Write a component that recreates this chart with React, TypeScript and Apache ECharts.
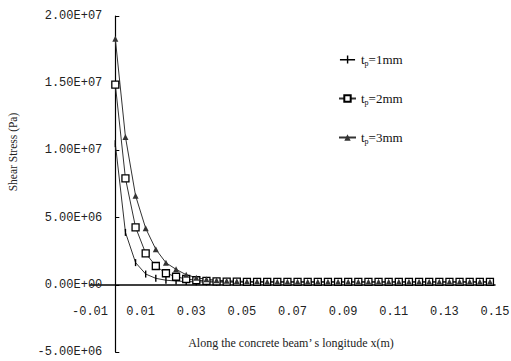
import React, { useEffect, useRef } from "react";
import * as echarts from "echarts";

const xValues = [
  0, 0.004, 0.008, 0.012, 0.016, 0.02, 0.024, 0.028, 0.032, 0.036,
  0.04, 0.044, 0.048, 0.052, 0.056, 0.06, 0.064, 0.068, 0.072, 0.076,
  0.08, 0.084, 0.088, 0.092, 0.096, 0.1, 0.104, 0.108, 0.112, 0.116,
  0.12, 0.124, 0.128, 0.132, 0.136, 0.14, 0.144, 0.148,
];

const tp1 = [
  1.05e7, 3.9e6, 1.65e6, 8.0e5, 4.8e5, 3.4e5, 2.8e5, 2.4e5, 2.2e5, 2.1e5,
  2.0e5, 2.0e5, 2.0e5, 2.0e5, 2.0e5, 2.0e5, 2.0e5, 2.0e5, 2.0e5, 2.0e5,
  2.0e5, 2.0e5, 2.0e5, 2.0e5, 2.0e5, 2.0e5, 2.0e5, 2.0e5, 2.0e5, 2.0e5,
  2.0e5, 2.0e5, 2.0e5, 2.0e5, 2.0e5, 2.0e5, 2.0e5, 2.0e5,
];

const tp2 = [
  1.49e7, 7.92e6, 4.28e6, 2.34e6, 1.4e6, 8.6e5, 6.0e5, 4.3e5, 3.4e5, 2.9e5,
  2.6e5, 2.4e5, 2.3e5, 2.2e5, 2.2e5, 2.2e5, 2.2e5, 2.2e5, 2.2e5, 2.2e5,
  2.2e5, 2.2e5, 2.2e5, 2.2e5, 2.2e5, 2.2e5, 2.2e5, 2.2e5, 2.2e5, 2.2e5,
  2.2e5, 2.2e5, 2.2e5, 2.2e5, 2.2e5, 2.2e5, 2.2e5, 2.2e5,
];

const tp3 = [
  1.83e7, 1.1e7, 6.63e6, 4.2e6, 2.64e6, 1.64e6, 1.15e6, 7.5e5, 5.3e5, 4.1e5,
  3.4e5, 3.0e5, 2.7e5, 2.5e5, 2.4e5, 2.3e5, 2.3e5, 2.3e5, 2.3e5, 2.3e5,
  2.3e5, 2.3e5, 2.3e5, 2.3e5, 2.3e5, 2.3e5, 2.3e5, 2.3e5, 2.3e5, 2.3e5,
  2.3e5, 2.3e5, 2.3e5, 2.3e5, 2.3e5, 2.3e5, 2.3e5, 2.3e5,
];

const seriesNames = ["tp=1mm", "tp=2mm", "tp=3mm"];
const xTitle = "Along the concrete beam\u2019 s longitude x(m)";
const yTitle = "Shear Stress (Pa)";

function sci(v: number): string {
  if (v === 0) return "0.00E+00";
  const sign = v < 0 ? "-" : "";
  const a = Math.abs(v);
  const e = Math.floor(Math.log10(a) + 1e-9);
  const m = a / Math.pow(10, e);
  const es = (e < 0 ? "-" : "+") + String(Math.abs(e)).padStart(2, "0");
  return sign + m.toFixed(2) + "E" + es;
}

const pair = (ys: number[]) => xValues.map((x, i) => [x, ys[i]]);

export default function App() {
  const ref = useRef<HTMLDivElement>(null);
  useEffect(() => {
    if (!ref.current) return;
    const chart = echarts.init(ref.current, null, { renderer: "svg" });
    const lineColor = "#333";
    const serif = "'Liberation Serif', 'Times New Roman', serif";
    const mono = "'Liberation Mono', 'Courier New', monospace";
    const gridLeft = 90;
    const gridRight = 16;
    const gridTop = 16;
    const gridBottom = 9;
    const xMin = -0.01;
    const xMax = 0.15;
    const yMin = -5e6;
    const yMax = 2e7;
    const plotW = 511 - gridLeft - gridRight;
    const plotH = 361 - gridTop - gridBottom;
    // shift the axes so they cross at (0, 0), as in the reference
    const yAxisShift = ((0 - xMin) / (xMax - xMin)) * plotW;
    const xAxisShift = ((0 - yMin) / (yMax - yMin)) * plotH;
    chart.setOption({
      animation: false,
      backgroundColor: "#ffffff",
      grid: {
        left: gridLeft,
        right: gridRight,
        top: gridTop,
        bottom: gridBottom,
        containLabel: false,
        outerBoundsMode: "none",
      },
      legend: {
        orient: "vertical",
        left: 333,
        top: 48,
        itemGap: 25,
        itemWidth: 17,
        itemHeight: 8,
        data: [
          { name: seriesNames[0], icon: "path://M0,4 L17,4 L17,5.5 L0,5.5 Z M7.8,0 L9.4,0 L9.4,9 L7.8,9 Z" },
          { name: seriesNames[1] },
          { name: seriesNames[2] },
        ],
        formatter: (n: string) => `{t|t}{s|p}{t|${n.slice(2)}}`,
        textStyle: {
          color: "#111",
          rich: {
            t: { fontFamily: serif, fontSize: 13, color: "#111" },
            s: { fontFamily: serif, fontSize: 8, color: "#111", verticalAlign: "bottom", padding: [7, 0, 0, 0] },
          },
        },
      },
      xAxis: {
        type: "value",
        min: xMin,
        max: xMax,
        interval: 0.02,
        offset: -xAxisShift,
        axisLine: { onZero: false, lineStyle: { color: "#000", width: 1.5 } },
        axisTick: { show: false },
        splitLine: { show: false },
        axisLabel: {
          margin: 21,
          fontFamily: mono,
          fontSize: 12,
          color: "#222",
          showMinLabel: true,
          showMaxLabel: true,
          formatter: (v: number) => v.toFixed(2),
        },
      },
      yAxis: {
        type: "value",
        min: yMin,
        max: yMax,
        interval: 5e6,
        offset: -yAxisShift,
        axisLine: { show: true, onZero: false, lineStyle: { color: "#000", width: 1.2 } },
        axisTick: { show: true, inside: true, length: 4, lineStyle: { color: "#000" } },
        splitLine: { show: false },
        axisLabel: {
          margin: 13,
          fontFamily: mono,
          fontSize: 12,
          color: "#222",
          formatter: (v: number) => sci(v),
        },
      },
      graphic: [
        {
          type: "text",
          x: 13,
          y: 152,
          rotation: Math.PI / 2,
          style: {
            text: yTitle,
            fontFamily: serif,
            fontSize: 11.5,
            fill: "#222",
            align: "center",
            verticalAlign: "middle",
          },
        },
        {
          type: "text",
          x: 291,
          y: 343,
          style: {
            text: xTitle,
            fontFamily: serif,
            fontSize: 12,
            fill: "#222",
            align: "center",
            verticalAlign: "middle",
          },
        },
      ],
      series: [
        {
          name: seriesNames[0],
          type: "line",
          data: pair(tp1),
          symbol: "path://M0,0 L2,0 L2,10 L0,10 Z",
          symbolKeepAspect: true,
          symbolSize: 7,
          showAllSymbol: true,
          lineStyle: { color: lineColor, width: 1 },
          itemStyle: { color: "#000" },
        },
        {
          name: seriesNames[1],
          type: "line",
          data: pair(tp2),
          symbol: "rect",
          symbolSize: 7,
          showAllSymbol: true,
          lineStyle: { color: lineColor, width: 1 },
          itemStyle: { color: "#fff", borderColor: "#000", borderWidth: 1.3 },
        },
        {
          name: seriesNames[2],
          type: "line",
          data: pair(tp3),
          symbol: "triangle",
          symbolSize: 6,
          showAllSymbol: true,
          lineStyle: { color: lineColor, width: 1 },
          itemStyle: { color: "#333" },
        },
      ],
    });
    return () => chart.dispose();
  }, []);
  return (
    <div
      ref={ref}
      style={{ position: "fixed", left: 0, top: 0, width: 511, height: 361 }}
    />
  );
}
